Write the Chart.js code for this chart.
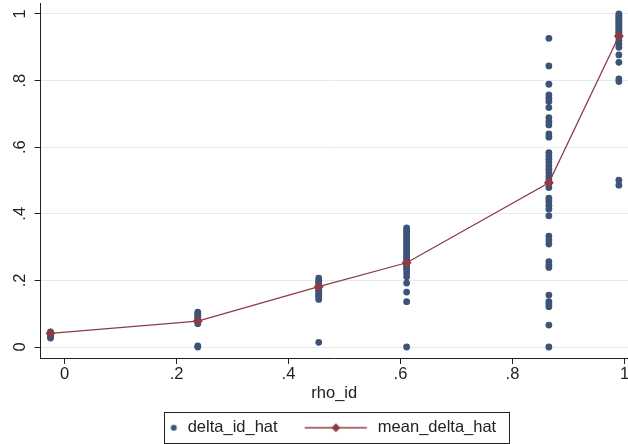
<!DOCTYPE html>
<html>
<head>
<meta charset="utf-8">
<script src="https://cdn.jsdelivr.net/npm/chart.js@4.4.1/dist/chart.umd.min.js"></script>
<style>
  body { margin: 0; background: #fff; }
  canvas { display: block; }
</style>
</head>
<body>
<canvas id="chart" width="628" height="444"></canvas>
<script>
// x position (rho_id) of each group
const rhoId = [-0.025, 0.238, 0.454, 0.611, 0.865, 0.990];

// delta_id_hat values, one list per group
const deltaGroup1 = [0.045, 0.042, 0.038, 0.035, 0.030, 0.027];
const deltaGroup2 = [0.105, 0.100, 0.095, 0.090, 0.085, 0.080, 0.075, 0.070, 0.003, 0.0];
const deltaGroup3 = [0.207, 0.200, 0.195, 0.190, 0.185, 0.180, 0.175, 0.170, 0.165, 0.160,
                     0.155, 0.150, 0.143, 0.014];
const deltaGroup4 = [0.358, 0.352, 0.346, 0.340, 0.334, 0.328, 0.322, 0.316, 0.310, 0.304,
                     0.298, 0.292, 0.286, 0.280, 0.274, 0.268, 0.262, 0.255, 0.250, 0.244,
                     0.238, 0.232, 0.222, 0.211, 0.192, 0.165, 0.136, 0.0];
const deltaGroup5 = [0.927, 0.844, 0.789, 0.757, 0.747, 0.737, 0.719, 0.689, 0.677, 0.667,
                     0.640, 0.630, 0.584, 0.574, 0.564, 0.554, 0.544, 0.534, 0.524, 0.512,
                     0.502, 0.492, 0.479, 0.447, 0.437, 0.426, 0.414, 0.394, 0.333, 0.321,
                     0.309, 0.256, 0.246, 0.239, 0.156, 0.136, 0.129, 0.121, 0.066, 0.0];
const deltaGroup6 = [1.000, 0.995, 0.990, 0.985, 0.980, 0.975, 0.970, 0.965, 0.960, 0.955,
                     0.950, 0.945, 0.940, 0.930, 0.920, 0.910, 0.900, 0.877, 0.855, 0.805,
                     0.797, 0.501, 0.486];
const deltaGroups = [deltaGroup1, deltaGroup2, deltaGroup3, deltaGroup4, deltaGroup5, deltaGroup6];

// mean_delta_hat per group
const meanDeltaHat = [0.041, 0.078, 0.181, 0.253, 0.493, 0.934];

const xTicks = [0, 0.2, 0.4, 0.6, 0.8, 1];
const yTicks = [0, 0.2, 0.4, 0.6, 0.8, 1];
const seriesNames = ['delta_id_hat', 'mean_delta_hat'];
const xTitle = 'rho_id';

const dotColor = '#3d5478';
const lineColor = '#8c3c44';
const textColor = '#222';
const fontFamily = '"Liberation Sans", Arial, Helvetica, sans-serif';
const fontSize = 16.5;

// Stata style tick labels: .2 instead of 0.2
function stataLabel(v) {
  const s = String(+v.toFixed(1));
  return s.replace(/^0\./, '.').replace(/^-0\./, '-.');
}

const scatterPoints = [];
deltaGroups.forEach((group, i) => {
  group.forEach(v => scatterPoints.push({ x: rhoId[i], y: v }));
});
const meanPoints = rhoId.map((x, i) => ({ x: x, y: meanDeltaHat[i] }));

// Legend symbols (dot, and line with diamond)
const LEGEND_W = 80;
const LEGEND_PAD = 12;
function legendSymbol(kind) {
  const c = document.createElement('canvas');
  c.width = LEGEND_W;
  c.height = 16;
  const g = c.getContext('2d');
  if (kind === 'dot') {
    g.fillStyle = dotColor;
    g.beginPath();
    g.arc(LEGEND_W - 5.75, 8, 3, 0, Math.PI * 2);
    g.fill();
  } else {
    g.strokeStyle = lineColor;
    g.lineWidth = 1.3;
    g.beginPath();
    g.moveTo(15.25, 8);
    g.lineTo(77.25, 8);
    g.stroke();
    g.fillStyle = lineColor;
    g.beginPath();
    g.moveTo(46.25 - 4.5, 8);
    g.lineTo(46.25, 3.5);
    g.lineTo(46.25 + 4.5, 8);
    g.lineTo(46.25, 12.5);
    g.closePath();
    g.fill();
  }
  return c;
}
const legendSymbols = [legendSymbol('dot'), legendSymbol('line')];

// move the legend so its visible part sits under the plot, and frame it
const legendFrame = {
  id: 'legendFrame',
  afterLayout(chart) {
    const lg = chart.legend;
    const cx = (lg.left + LEGEND_PAD + lg.right - lg.lineWidths[0]) / 2;
    const visLeft = cx + LEGEND_W - 5.75 - 3;
    const visRight = cx + lg.lineWidths[0] - LEGEND_PAD;
    const target = (chart.chartArea.left + chart.chartArea.right) / 2 - 0.8;
    const shift = target - (visLeft + visRight) / 2;
    lg.left += shift;
    lg.right += shift;
    lg.top += 2;
    lg.bottom += 2;
  },
  afterDraw(chart) {
    const lg = chart.legend;
    const ctx = chart.ctx;
    const cx = (lg.left + LEGEND_PAD + lg.right - lg.lineWidths[0]) / 2;
    const dotX = cx + LEGEND_W - 5.75;
    const endX = cx + lg.lineWidths[0] - LEGEND_PAD;
    const cy = lg.top + LEGEND_PAD + fontSize / 2;
    const l = Math.round(dotX - 9.5) + 0.5;
    const r = Math.round(endX + 13) + 0.5;
    const t = Math.round(cy - 15.5) + 0.5;
    const b = Math.round(cy + 15.5) + 0.5;
    ctx.save();
    ctx.strokeStyle = textColor;
    ctx.lineWidth = 1;
    ctx.strokeRect(l, t, r - l, b - t);
    ctx.restore();
  }
};

new Chart(document.getElementById('chart'), {
  type: 'scatter',
  data: {
    datasets: [
      {
        label: seriesNames[1],
        data: meanPoints,
        showLine: true,
        borderColor: lineColor,
        borderWidth: 1.3,
        backgroundColor: lineColor,
        pointStyle: 'rectRot',
        pointRadius: 5,
        pointBorderWidth: 0,
        tension: 0,
        order: 0
      },
      {
        label: seriesNames[0],
        data: scatterPoints,
        backgroundColor: dotColor,
        borderWidth: 0,
        pointRadius: 3.4,
        order: 1
      }
    ]
  },
  options: {
    responsive: false,
    animation: false,
    layout: { autoPadding: false, padding: { top: 3, left: 0, right: 0, bottom: 0 } },
    plugins: {
      tooltip: { enabled: false },
      legend: {
        position: 'bottom',
        labels: {
          usePointStyle: true,
          pointStyleWidth: LEGEND_W,
          padding: LEGEND_PAD,
          color: textColor,
          font: { family: fontFamily, size: fontSize },
          generateLabels: () => seriesNames.map((name, i) => ({
            text: name,
            pointStyle: legendSymbols[i],
            fillStyle: 'transparent',
            strokeStyle: 'transparent',
            lineWidth: 0,
            fontColor: textColor,
            hidden: false,
            datasetIndex: i === 0 ? 1 : 0
          }))
        }
      }
    },
    scales: {
      x: {
        type: 'linear',
        min: -0.0429,
        max: 1.0063,
        afterBuildTicks: s => { s.ticks = xTicks.map(v => ({ value: v })); },
        afterFit: s => { s.paddingLeft = 0; s.paddingRight = 0; s.height = 47.5; },
        ticks: {
          color: textColor,
          padding: 1,
          maxRotation: 0,
          font: { family: fontFamily, size: fontSize },
          callback: v => stataLabel(v)
        },
        grid: {
          drawOnChartArea: false,
          drawTicks: true,
          tickLength: 6,
          tickColor: textColor
        },
        border: { color: textColor, width: 1 },
        title: {
          display: true,
          text: xTitle,
          color: textColor,
          font: { family: fontFamily, size: fontSize },
          padding: { top: 0, bottom: 2.6 }
        }
      },
      y: {
        type: 'linear',
        min: -0.033,
        max: 1.033,
        afterBuildTicks: s => { s.ticks = yTicks.map(v => ({ value: v })); },
        afterFit: s => { s.width = 40.5; s.paddingTop = 0; s.paddingBottom = 0; },
        ticks: {
          color: textColor,
          minRotation: 90,
          maxRotation: 90,
          crossAlign: 'center',
          padding: 7,
          font: { family: fontFamily, size: fontSize },
          callback: v => stataLabel(v)
        },
        grid: {
          color: '#e4ebec',
          lineWidth: 1,
          tickLength: 6,
          tickColor: textColor
        },
        border: { color: textColor, width: 1 }
      }
    }
  },
  plugins: [legendFrame]
});
</script>
</body>
</html>
